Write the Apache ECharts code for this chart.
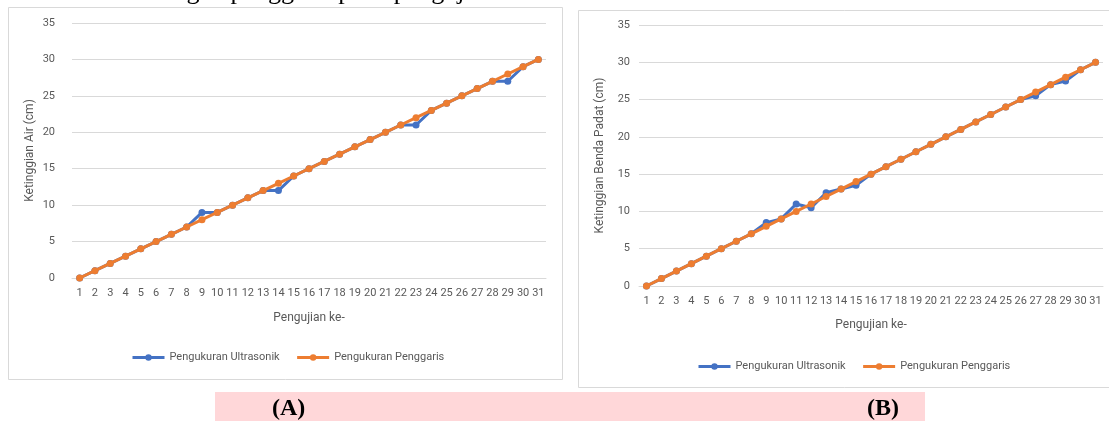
<!DOCTYPE html>
<html>
<head>
<meta charset="utf-8">
<script src="https://cdn.jsdelivr.net/npm/echarts@6/dist/echarts.min.js"></script>
<style>
html,body{margin:0;padding:0;background:#fff;}
#c{width:1109px;height:421px;}
</style>
</head>
<body>
<div id="c"></div>
<script>
// ---- data ----
const categories = ['1','2','3','4','5','6','7','8','9','10','11','12','13','14','15','16','17','18','19','20','21','22','23','24','25','26','27','28','29','30','31'];
const yTicksA = [0,5,10,15,20,25,30,35];
const ultrasonikA = [0,1,2,3,4,5,6,7,9,9,10,11,12,12,14,15,16,17,18,19,20,21,21,23,24,25,26,27,27,29,30];
const penggarisA  = [0,1,2,3,4,5,6,7,8,9,10,11,12,13,14,15,16,17,18,19,20,21,22,23,24,25,26,27,28,29,30];
const ultrasonikB = [0,1,2,3,4,5,6,7,8.5,9,11,10.5,12.5,13,13.5,15,16,17,18,19,20,21,22,23,24,25,25.5,27,27.5,29,30];
const penggarisB  = [0,1,2,3,4,5,6,7,8,9,10,11,12,13,14,15,16,17,18,19,20,21,22,23,24,25,26,27,28,29,30];
const seriesNames = ['Pengukuran Ultrasonik','Pengukuran Penggaris'];
const yNameA = 'Ketinggian Air (cm)';
const yNameB = 'Ketinggian Benda Padat (cm)';
const xName = 'Pengujian ke-';

const BLUE = '#4472C4', ORANGE = '#ED7D31', TXT = '#595959', GRID = '#D9D9D9';
const FONT = 'Roboto, "Noto Sans", sans-serif';

function xAxis(gi, gap){
  return {
    type:'category', gridIndex:gi, data:categories, boundaryGap:true,
    name:xName, nameLocation:'middle', nameGap:gap,
    nameTextStyle:{color:TXT,fontSize:12,fontFamily:FONT},
    axisLine:{show:true,lineStyle:{color:GRID,width:1}},
    axisTick:{show:false},
    axisLabel:{interval:0,color:TXT,fontSize:11,fontFamily:FONT,margin:10}
  };
}
function yAxis(gi, name, gap, margin){
  return {
    type:'value', gridIndex:gi, min:yTicksA[0], max:yTicksA[yTicksA.length-1], interval:5,
    name:name, nameLocation:'middle', nameGap:gap, nameRotate:90,
    nameTextStyle:{color:TXT,fontSize:12,fontFamily:FONT},
    axisLine:{show:false}, axisTick:{show:false},
    splitLine:{lineStyle:{color:GRID,width:1}},
    axisLabel:{color:TXT,fontSize:11,fontFamily:FONT,margin:margin}
  };
}
function line(name, data, color, xi, yi){
  return {
    type:'line', name:name, data:data, xAxisIndex:xi, yAxisIndex:yi,
    symbol:'circle', symbolSize:7, showSymbol:true,
    itemStyle:{color:color}, lineStyle:{color:color,width:3},
    animation:false, z: color===ORANGE?3:2
  };
}
function legend(left, top){
  return {
    left:left, top:top, itemWidth:32, itemHeight:8, itemGap:16,
    lineStyle:{width:3},
    textStyle:{color:TXT,fontSize:11,fontFamily:FONT},
    data:seriesNames.map(n=>({name:n})),
    selectedMode:false
  };
}

const chart = echarts.init(document.getElementById('c'), null, {renderer:'canvas'});
chart.setOption({
  backgroundColor:'#fff',
  animation:false,
  graphic:[
    {type:'rect', shape:{x:8.5,y:7.5,width:554,height:372}, style:{fill:'#fff',stroke:'#D9D9D9',lineWidth:1}, z:-10},
    {type:'rect', shape:{x:578.5,y:10.5,width:540,height:377}, style:{fill:'#fff',stroke:'#D9D9D9',lineWidth:1}, z:-10},
    {type:'rect', shape:{x:215,y:392,width:710,height:29}, style:{fill:'#FFD7D9'}, z:-10},
    {type:'text', left:272, top:397, style:{text:'(A)', font:'bold 24px "Liberation Serif", serif', fill:'#000'}},
    {type:'text', left:867, top:397, style:{text:'(B)', font:'bold 24px "Liberation Serif", serif', fill:'#000'}},
    {type:'text', x:149, y:-21, style:{text:'dengan penggaris pada pengujian', font:'26px "Liberation Serif", serif', fill:'#000'}}
  ],
  grid:[
    {left:72, top:23, width:474, height:255},
    {left:639, top:25, width:464, height:261}
  ],
  xAxis:[xAxis(0,34), xAxis(1,33)],
  yAxis:[yAxis(0,yNameA,36,17), yAxis(1,yNameB,33,9)],
  legend:[legend(126,347), legend(692,356)],
  series:[
    line(seriesNames[0], ultrasonikA, BLUE, 0, 0),
    line(seriesNames[1], penggarisA, ORANGE, 0, 0),
    line(seriesNames[0], ultrasonikB, BLUE, 1, 1),
    line(seriesNames[1], penggarisB, ORANGE, 1, 1)
  ]
});
</script>
</body>
</html>
